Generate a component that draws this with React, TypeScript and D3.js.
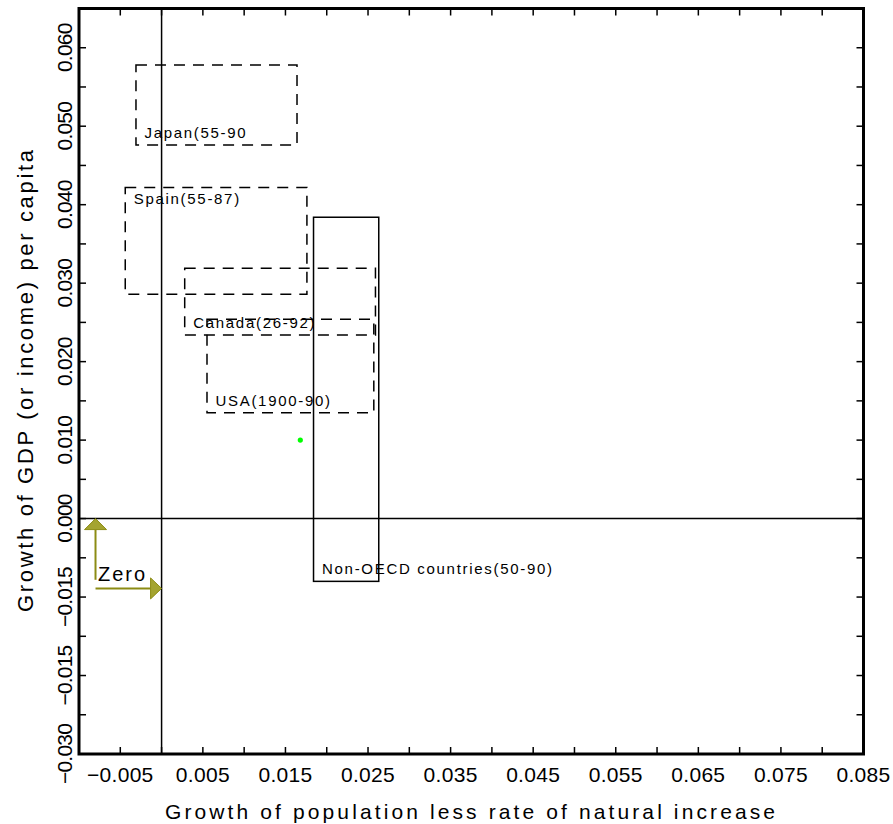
import * as d3 from "d3";

// axis ticks and labels
const xTickValues = [-0.005, 0, 0.005, 0.01, 0.015, 0.02, 0.025, 0.03, 0.035, 0.04, 0.045, 0.05, 0.055, 0.06, 0.065, 0.07, 0.075, 0.08];
const xLabelValues = [-0.005, 0.005, 0.015, 0.025, 0.035, 0.045, 0.055, 0.065, 0.075, 0.085];
const xLabelTexts = ["\u22120.005", "0.005", "0.015", "0.025", "0.035", "0.045", "0.055", "0.065", "0.075", "0.085"];
const yTickValues = [-0.025, -0.02, -0.015, -0.01, -0.005, 0, 0.005, 0.01, 0.015, 0.02, 0.025, 0.03, 0.035, 0.04, 0.045, 0.05, 0.055, 0.06];
const yLabelValues = [-0.03, -0.02, -0.01, 0, 0.01, 0.02, 0.03, 0.04, 0.05, 0.06];
const yLabelTexts = ["\u22120.030", "\u22120.015", "\u22120.015", "0.000", "0.010", "0.020", "0.030", "0.040", "0.050", "0.060"];

// regions: population growth range (x) vs GDP per capita growth range (y)
const regionNames = ["Japan(55-90", "Spain(55-87)", "Canada(26-92)", "USA(1900-90)", "Non-OECD countries(50-90)"];
const popLow = [-0.0031, -0.0044, 0.0028, 0.0055, 0.0184];
const popHigh = [0.0164, 0.0176, 0.0259, 0.0257, 0.0263];
const gdpLow = [0.0476, 0.0286, 0.0234, 0.0135, -0.008];
const gdpHigh = [0.0578, 0.0422, 0.0319, 0.0254, 0.0384];
const regionDashed = [true, true, true, true, false];
const labelAt = ["bottom", "top", "bottom", "bottom", "bottom"];

const pointPop = [0.0168];
const pointGdp = [0.01];

// "Zero" annotation
const zeroArrowX = -0.008;
const zeroArrowY = -0.0089;
const zeroArrowStart = -0.0078;

const W = 893;
const H = 824;
const left = 79, right = 863.5, top = 8.5, bottom = 754;

export default function App() {
  const x = d3.scaleLinear().domain([-0.01, 0.085]).range([left, right]);
  const y = d3.scaleLinear().domain([-0.03, 0.065]).range([bottom, top]);
  const font = "'Liberation Sans', Arial, sans-serif";
  const olive = "#8c8c14";

  const ax = x(zeroArrowX);
  const ay = y(zeroArrowY);
  const y0 = y(0);
  const x0 = x(0);

  return (
    <svg width={W} height={H} style={{ position: "absolute", left: 0, top: 0, background: "#fff" }} fontFamily={font}>
      <rect x={0} y={0} width={W} height={H} fill="#fff" />

      {/* zero lines */}
      <line x1={x0} x2={x0} y1={top} y2={bottom} stroke="#000" strokeWidth={1.5} />
      <line x1={left} x2={right} y1={y0} y2={y0} stroke="#000" strokeWidth={1.5} />

      {/* region boxes */}
      {regionNames.map((name, i) => {
        const bx = x(popLow[i]);
        const bw = x(popHigh[i]) - bx;
        const by = y(gdpHigh[i]);
        const bh = y(gdpLow[i]) - by;
        const ty = labelAt[i] === "top" ? by + 17 : by + bh - 7;
        return (
          <g key={name}>
            <rect x={bx} y={by} width={bw} height={bh} fill="none" stroke="#000" strokeWidth={1.5}
              strokeDasharray={regionDashed[i] ? "11 8" : undefined} />
            <text x={bx + 8.5} y={ty} fontSize={15} letterSpacing={1.7} fill="#000">{name}</text>
          </g>
        );
      })}

      {/* point */}
      {pointPop.map((p, i) => (
        <circle key={i} cx={x(p)} cy={y(pointGdp[i])} r={2.6} fill="#00ff00" />
      ))}

      {/* zero arrows */}
      <line x1={ax} x2={ax} y1={y(zeroArrowStart)} y2={y0 + 11} stroke={olive} strokeWidth={2} />
      <polygon points={`${ax},${y0} ${ax - 11},${y0 + 11} ${ax + 11},${y0 + 11}`} fill="#a4a430" stroke={olive} strokeWidth={1} />
      <line x1={ax} x2={x0 - 11} y1={ay} y2={ay} stroke={olive} strokeWidth={2} />
      <polygon points={`${x0},${ay} ${x0 - 11},${ay - 10.5} ${x0 - 11},${ay + 10.5}`} fill="#a4a430" stroke={olive} strokeWidth={1} />
      <text x={ax + 2.5} y={581} fontSize={20} letterSpacing={2} fill="#000">Zero</text>

      {/* ticks on all sides */}
      {xTickValues.map((v) => (
        <g key={"xt" + v}>
          <line x1={x(v)} x2={x(v)} y1={bottom} y2={bottom - 7} stroke="#000" strokeWidth={1.5} />
          <line x1={x(v)} x2={x(v)} y1={top} y2={top + 7} stroke="#000" strokeWidth={1.5} />
        </g>
      ))}
      {yTickValues.map((v) => (
        <g key={"yt" + v}>
          <line x1={left} x2={left + 7} y1={y(v)} y2={y(v)} stroke="#000" strokeWidth={1.5} />
          <line x1={right} x2={right - 7} y1={y(v)} y2={y(v)} stroke="#000" strokeWidth={1.5} />
        </g>
      ))}

      {/* frame */}
      <rect x={left} y={top} width={right - left} height={bottom - top} fill="none" stroke="#000" strokeWidth={3} />

      {/* tick labels */}
      {xLabelValues.map((v, i) => (
        <text key={"xl" + i} x={x(v)} y={782} textAnchor="middle" fontSize={21} letterSpacing={0.3} fill="#000">
          {xLabelTexts[i]}
        </text>
      ))}
      {yLabelValues.map((v, i) => (
        <text key={"yl" + i} transform={`translate(72,${y(v)}) rotate(-90)`} textAnchor="middle" fontSize={21}
          letterSpacing={-0.8} fill="#000">
          {yLabelTexts[i]}
        </text>
      ))}

      {/* axis titles */}
      <text x={470} y={819} textAnchor="middle" fontSize={21} textLength={610} lengthAdjust="spacing" fill="#000">
        Growth of population less rate of natural increase
      </text>
      <text transform={`translate(33,381) rotate(-90)`} textAnchor="middle" fontSize={22} textLength={462}
        lengthAdjust="spacing" fill="#000">
        Growth of GDP (or income) per capita
      </text>
    </svg>
  );
}
